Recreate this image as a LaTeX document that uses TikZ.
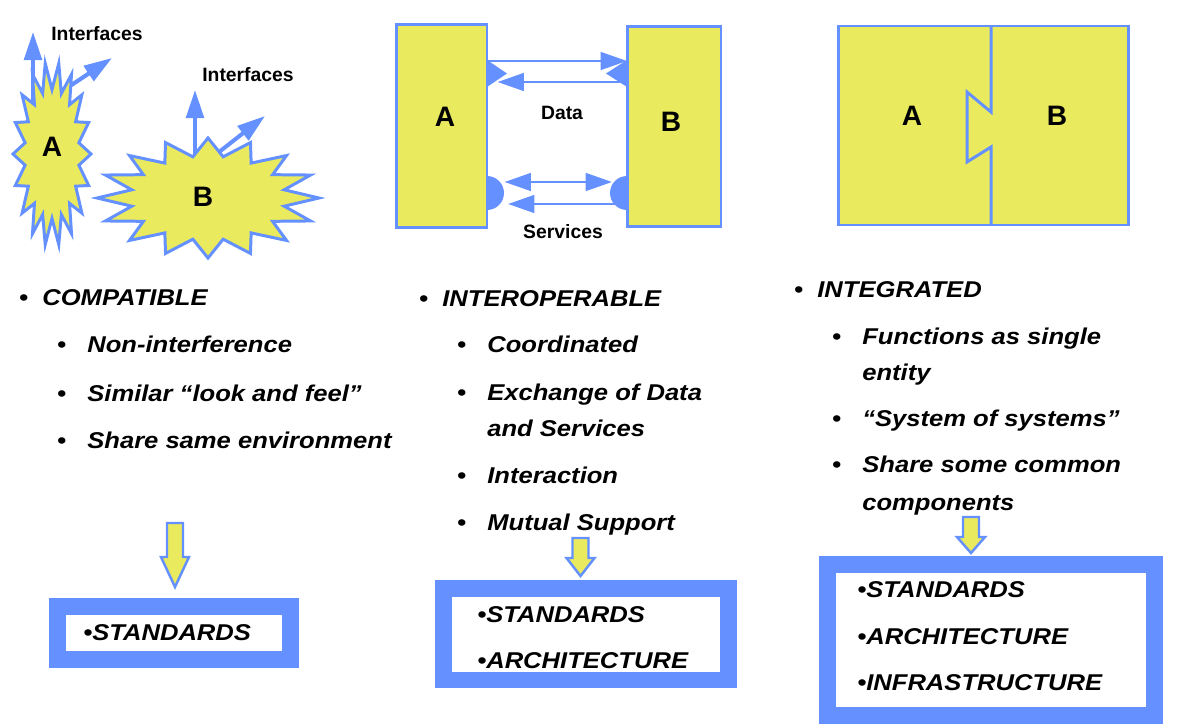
\documentclass[tikz,border=0pt]{standalone}
\usepackage{fontspec}
\setmainfont{Liberation Sans}
\newfontfamily\widefont[FakeStretch=1.12]{Liberation Sans}
\usetikzlibrary{arrows.meta}
\definecolor{sysblue}{RGB}{100,145,255}
\definecolor{sysyellow}{RGB}{234,234,94}

\begin{document}
\begin{tikzpicture}[x=0.02cm, y=-0.02cm,
    burst/.style={draw=sysblue, fill=sysyellow, line width=1.7pt, line join=miter},
    iface/.style={draw=sysblue, line width=2.3pt, -{Triangle[length=16pt,width=10pt]}},
    flow/.style={draw=sysblue, line width=1.6pt, >={Triangle[length=15pt,width=10pt]}},
    port/.style={fill=sysblue},
    sysbox/.style={draw=sysblue, fill=sysyellow, line width=1.7pt, inner sep=0pt, outer sep=0pt},
    letter/.style={font=\fontsize{16}{18}\selectfont\bfseries},
    small/.style={font=\fontsize{11}{13}\selectfont\bfseries},
    txt/.style={font=\widefont\fontsize{13}{15}\selectfont\bfseries\itshape, anchor=base west, inner sep=0pt},
    head/.style={txt, execute at begin node={\llap{\upshape\textbullet\hspace{8pt}}}},
    sub/.style={txt, execute at begin node={\llap{\upshape\textbullet\hspace{12pt}}}},
    frame/.style={draw=sysblue, line width=9.6pt, inner sep=0pt},
    down/.style={draw=sysblue, fill=sysyellow, line width=1.4pt}]
\useasboundingbox (0,0) rectangle (1191,726);

% compatible: two bursts with their interfaces
\coordinate (a0) at (33,110);
\coordinate (a1) at (33,32);
\coordinate (a2) at (52,98);
\coordinate (a3) at (112,58);
\coordinate (b0) at (195,175);
\coordinate (b1) at (195,90);
\coordinate (b2) at (205,163);
\coordinate (b3) at (265,116);
\draw[iface] (a0) -- (a1);
\draw[iface] (a2) -- (a3);
\draw[iface] (b0) -- (b1);
\draw[iface] (b2) -- (b3);
\draw[burst] plot[samples=37, domain=0:360, variable=\t]
  ({52+39*(1-0.3*mod(round(\t/10),2))*cos(\t)}, {154+92*(1-0.3*mod(round(\t/10),2))*sin(\t)}) -- cycle;
\draw[burst] plot[samples=33, domain=0:360, variable=\t]
  ({208+111*(1-0.3*mod(round(\t/11.25),2))*cos(\t)}, {198+60*(1-0.3*mod(round(\t/11.25),2))*sin(\t)}) -- cycle;
\node[letter] (burstA) at (52,147) {A};
\node[letter] (burstB) at (203,197) {B};
\node[small] (ifa) at (97,34) {Interfaces};
\node[small] (ifb) at (248,75) {Interfaces};

% interoperable: two boxes exchanging data and services
\node[sysbox, minimum width=1.82cm, minimum height=4.08cm] (boxa) at (441.5,126) {};
\node[sysbox, minimum width=1.88cm, minimum height=4.02cm] (boxb) at (674,126.5) {};
\coordinate (dtop) at (0,61);
\coordinate (dlow) at (0,82);
\coordinate (dport) at (0,73.5);
\coordinate (stop) at (0,182);
\coordinate (slow) at (0,204);
\coordinate (sport) at (0,193);
\draw[flow, ->] (boxa.east |- dtop) -- (boxb.west |- dtop);
\draw[flow, ->, shorten >=6pt] (boxb.west |- dlow) -- (boxa.east |- dlow);
\draw[flow, <->, shorten <=10pt, shorten >=8.5pt] (boxa.east |- stop) -- (boxb.west |- stop);
\draw[flow, ->, shorten >=12pt] (boxb.west |- slow) -- (boxa.east |- slow);
\fill[port] (boxa.east |- dport) ++(0,-13.5) -- ++(20,13.5) -- ++(-20,13.5) -- cycle;
\fill[port] (boxb.west |- dport) ++(0,-13.5) -- ++(-21,13.5) -- ++(21,13.5) -- cycle;
\fill[port] (boxa.east |- sport) ++(0,-17) arc[start angle=-90, end angle=90, radius=17] -- cycle;
\fill[port] (boxb.west |- sport) ++(0,-17) arc[start angle=-90, end angle=-270, radius=17] -- cycle;
\node[letter] (la) at (445,117) {A};
\node[letter] (lb) at (671,122) {B};
\node[small] (data) at (562,113) {Data};
\node[small] (serv) at (563,232) {Services};

% integrated: one block, B keyed into A
\draw[sysbox] (838,26) rectangle (1128,225);
\draw[draw=sysblue, line width=1.7pt] (991,26) -- (991,112) -- (967,92) -- (967,162) -- (991,147) -- (991,225);
\node[letter] (ra) at (912,116) {A};
\node[letter] (rb) at (1057,116) {B};

% bullet lists
\node[head] (compat) at (42,306) {COMPATIBLE};
\node[sub] (c1) at (87,353) {Non-interference};
\node[sub] (c2) at (87,401) {Similar “look and feel”};
\node[sub] (c3) at (87,448) {Share same environment};

\node[head] (inter) at (442,307) {INTEROPERABLE};
\node[sub] (i1) at (487,353) {Coordinated};
\node[sub] (i2) at (487,400) {Exchange of Data};
\node[txt] (i2b) at (487,437) {and Services};
\node[sub] (i3) at (487,483) {Interaction};
\node[sub] (i4) at (487,530) {Mutual Support};

\node[head] (integ) at (817,298) {INTEGRATED};
\node[sub] (g1) at (862,345) {Functions as single};
\node[txt] (g1b) at (862,380) {entity};
\node[sub] (g2) at (862,427) {“System of systems”};
\node[sub] (g3) at (862,473) {Share some common};
\node[txt] (g3b) at (862,510) {components};

% block arrows down to the frames
\foreach \cx/\ta/\tb/\tc in {175/523/557/587, 580.5/538/558/576, 971/517/537/553}
  \draw[down] (\cx-8,\ta) -- (\cx+8,\ta) -- (\cx+8,\tb) -- (\cx+14,\tb) -- (\cx,\tc)
    -- (\cx-14,\tb) -- (\cx-8,\tb) -- cycle;

\node[frame, minimum width=4.66cm, minimum height=1.06cm] (std1) at (174,633) {};
\node[frame, minimum width=5.7cm, minimum height=1.83cm] (std2) at (586,634.25) {};
\node[frame, minimum width=6.54cm, minimum height=3.02cm] (std3) at (991,640) {};

\node[txt] (s1a) at (83,640) {\textbullet STANDARDS};
\node[txt] (s2a) at (477,622) {\textbullet STANDARDS};
\node[txt] (s2b) at (477,668) {\textbullet ARCHITECTURE};
\node[txt] (s3a) at (857,597) {\textbullet STANDARDS};
\node[txt] (s3b) at (857,644) {\textbullet ARCHITECTURE};
\node[txt] (s3c) at (857,690) {\textbullet INFRASTRUCTURE};
\end{tikzpicture}
\end{document}
